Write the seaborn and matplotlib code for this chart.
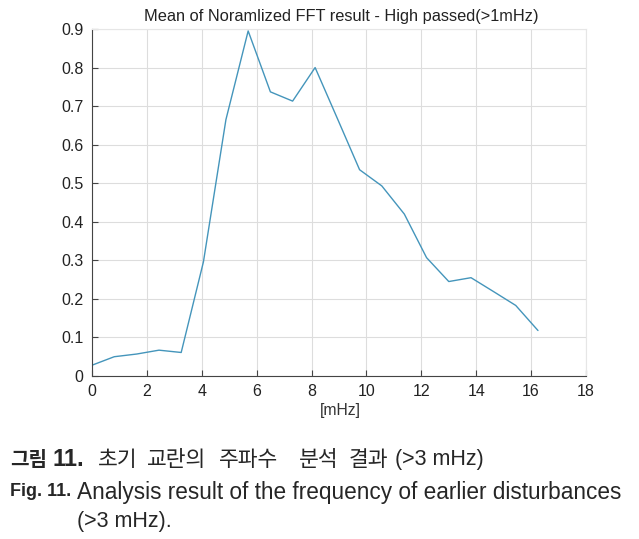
import numpy as np
import pandas as pd
import matplotlib
matplotlib.use("Agg")
import matplotlib.pyplot as plt
from matplotlib import font_manager
import seaborn as sns

# frequency bins [mHz] and mean normalized FFT magnitude
freq_mhz = [0.0, 0.81, 1.63, 2.44, 3.25, 4.06, 4.88, 5.69, 6.5, 7.31, 8.13,
            8.94, 9.75, 10.56, 11.38, 12.19, 13.0, 13.81, 14.63, 15.44, 16.25]
mean_fft = [0.028, 0.050, 0.057, 0.067, 0.061, 0.296, 0.665, 0.895, 0.737, 0.713, 0.800,
            0.668, 0.535, 0.493, 0.420, 0.307, 0.245, 0.255, 0.219, 0.183, 0.118]
x_ticks = [0, 2, 4, 6, 8, 10, 12, 14, 16, 18]
y_ticks = [0, 0.1, 0.2, 0.3, 0.4, 0.5, 0.6, 0.7, 0.8, 0.9]

df = pd.DataFrame({"freq": freq_mhz, "val": mean_fft})

sns.set_style("whitegrid")
plt.rcParams['font.family'] = ['Liberation Sans', 'Noto Sans CJK KR', 'DejaVu Sans']

W, H = 639, 539
fig = plt.figure(figsize=(W / 100, H / 100), dpi=100)
ax = fig.add_axes([92 / W, 1 - 376 / H, (586 - 92) / W, (376 - 29) / H])

sns.lineplot(data=df, x="freq", y="val", ax=ax, color="#4495bb", linewidth=1.0)

ax.set_xlim(0, 18)
ax.set_ylim(0, 0.9)
ax.set_xticks(x_ticks)
ax.set_yticks(y_ticks)
ax.set_xticklabels([str(t) for t in x_ticks])
ax.set_yticklabels(["0"] + [f"{t:.1f}" for t in y_ticks[1:]])
ax.tick_params(direction="in", length=4, color="#444444", labelsize=11.5,
               labelcolor="#222222", pad=6, bottom=True, left=True)
ax.grid(True, color="#dddddd", linewidth=0.8)
for side in ["top", "right"]:
    ax.spines[side].set_color("#e6e6e6")
for side in ["bottom", "left"]:
    ax.spines[side].set_color("#444444")
for s in ax.spines.values():
    s.set_linewidth(0.8)
ax.set_xlabel("")
ax.set_ylabel("")

fig.text(341 / W, 1 - 16 / H, "Mean of Noramlized FFT result - High passed(>1mHz)",
         ha="center", va="center", fontsize=11.8, color="#222222")
fig.text(340 / W, 1 - 410 / H, "[mHz]", ha="center", va="center",
         fontsize=11.3, color="#333333")

# caption
kr = ['Noto Sans CJK KR', 'DejaVu Sans']
y1 = 1 - 460 / H
y2 = 1 - 492 / H
y3 = 1 - 522 / H
fig.text(10 / W, y1, "그림", ha="left", va="center", fontsize=14.5,
         fontweight="bold", family=kr)
fig.text(53 / W, y1, "11.", ha="left", va="center", fontsize=17,
         fontweight="bold")
fig.text(10 / W, y2, "Fig. 11.", ha="left", va="center", fontsize=13,
         fontweight="bold")
for word, x0 in [("초기", 98), ("교란의", 147), ("주파수", 219), ("분석", 299), ("결과", 349)]:
    fig.text(x0 / W, y1, word, ha="left", va="center", fontsize=15.5, family=kr)
fig.text(395 / W, y1, "(>3 mHz)", ha="left", va="center", fontsize=15.5)
fig.text(77 / W, y2, "Analysis result of the frequency of earlier disturbances",
         ha="left", va="center", fontsize=16.3)
fig.text(77 / W, y3, "(>3 mHz).", ha="left", va="center", fontsize=15.5)

fig.savefig("out.png", dpi=100)
